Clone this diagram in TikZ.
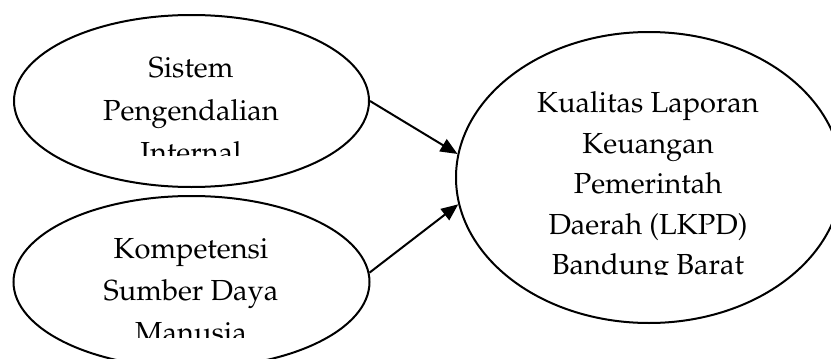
\documentclass[tikz,border=0pt]{standalone}
\usepackage[T1]{fontenc}
\usepackage{mathpazo}
\usetikzlibrary{shapes.geometric,arrows.meta}
\begin{document}
\begin{tikzpicture}[x=1pt,y=-1pt,
  oval/.style={draw,ellipse,line width=2pt,inner sep=0pt},
  lbl/.style={anchor=base,inner sep=0pt,font=\fontsize{29}{34}\selectfont},
  link/.style={line width=2pt,-{Triangle[length=17pt,width=14pt]}}]
\useasboundingbox (0,0) rectangle (831,359);
\clip (0,0) rectangle (831,359);
\node[oval,minimum width=355pt,minimum height=172pt] (e1) at (191.5,101) {};
\node[oval,minimum width=356pt,minimum height=172pt] (e2) at (191.5,282) {};
\node[oval,minimum width=386pt,minimum height=291pt] (e3) at (649,177.5) {};
\begin{scope}
  \clip (0,0) rectangle (831,155);
  \node[lbl] (t1a) at (191,77) {Sistem};
  \node[lbl] (t1b) at (191,120) {Pengendalian};
  \node[lbl] (t1c) at (191,162) {Internal};
\end{scope}
\begin{scope}
  \clip (0,0) rectangle (831,337);
  \node[lbl] (t2a) at (191,258) {Kompetensi};
  \node[lbl] (t2b) at (191,300) {Sumber Daya};
  \node[lbl] (t2c) at (191,342) {Manusia};
\end{scope}
\begin{scope}
  \clip (0,0) rectangle (831,274);
  \node[lbl] (t3a) at (648,112) {Kualitas Laporan};
  \node[lbl] (t3b) at (648,153) {Keuangan};
  \node[lbl] (t3c) at (648,193) {Pemerintah};
  \node[lbl] (t3d) at (648,234) {Daerah (LKPD)};
  \node[lbl] (t3e) at (648,274) {Bandung Barat};
\end{scope}
\draw[link] (e1.east) -- (e3.173.7);
\draw[link] (e2.3) -- (e3.188.6);
\end{tikzpicture}
\end{document}
